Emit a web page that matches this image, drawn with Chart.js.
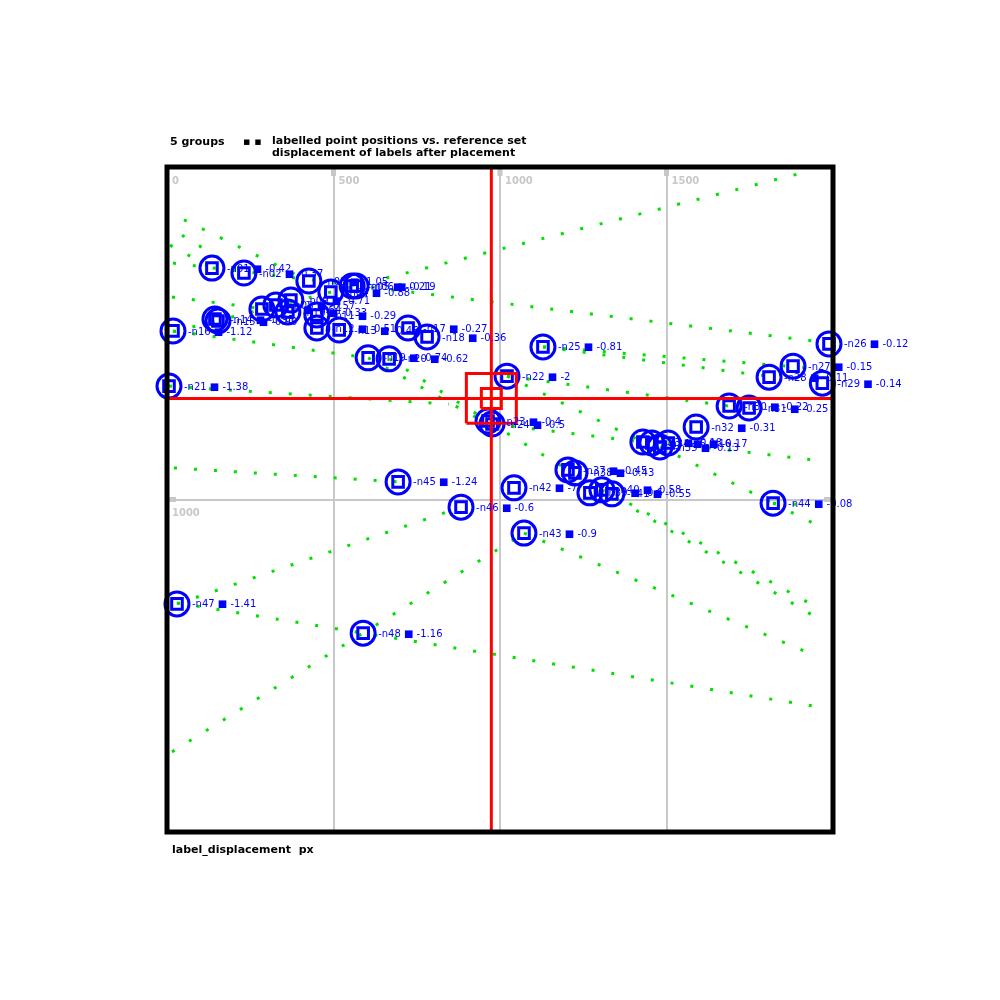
<!DOCTYPE html>
<html><head><meta charset="utf-8">
<script src="https://cdn.jsdelivr.net/npm/chart.js@4/dist/chart.umd.min.js"></script>
<style>html,body{margin:0;padding:0;background:#fff;}canvas{display:block;}</style>
</head><body>
<canvas id="c" width="1000" height="1000"></canvas>
<script>
// ---- text ----
const titleMain = "5 groups";
const titleSep = "▪ ▪";
const subtitleLines = ["labelled point positions vs. reference set", "displacement of labels after placement"];
const xAxisTitle = "label_displacement  px";

// ---- axes ----
const xMin = 0, xMax = 2000, yMin = 0, yMax = 2000;
const xTickValues = [0, 500, 1000, 1500];
const xTickLabels = ["0", "500", "1000", "1500"];
const yTickValues = [1000];
const yTickLabels = ["1000"];

// ---- nodes ----
const nodeX = [135,231,426,492,556,568,285,327,372,363,450,450,517,144,153,18,724,781,604,667,6,1021,964,976,1129,1988,1880,1808,1968,1688,1748,1589,1429,1456,1480,1505,1204,1225,1270,1306,1336,1042,1072,1820,694,883,30,589];
const nodeY = [1696,1681,1657,1624,1642,1642,1573,1585,1600,1564,1555,1516,1510,1543,1537,1507,1516,1489,1426,1423,1341,1371,1236,1227,1459,1468,1401,1368,1350,1281,1275,1218,1173,1170,1158,1170,1089,1080,1020,1029,1017,1035,899,989,1053,977,686,598];
const nodeLabels = [
 "-n01 ■ -0.42","-n02 ■ -0.37","-n03 ■ -1.05","-n04 ■ -0.88","-n05 ■ -0.21","-n06 ■ -0.19",
 "-n07 ■ -0.64","-n08 ■ -0.57","-n09 ■ -0.71","-n10 ■ -0.33","-n11 ■ -0.29","-n12 ■ -0.51",
 "-n13 ■ -0.46","-n14 ■ -0.93","-n15 ■ -0.90","-n16 ■ -1.12","-n17 ■ -0.27","-n18 ■ -0.36",
 "-n19 ■ -0.74","-n20 ■ -0.62","-n21 ■ -1.38","-n22 ■ -2","-n23 ■ -0.4","-n24 ■ -0.5",
 "-n25 ■ -0.81","-n26 ■ -0.12","-n27 ■ -0.15","-n28 ■ -0.11","-n29 ■ -0.14","-n30 ■ -0.22",
 "-n31 ■ -0.25","-n32 ■ -0.31","-n33 ■ -0.18","-n34 ■ -0.16","-n35 ■ -0.13","-n36 ■ -0.17",
 "-n37 ■ -0.45","-n38 ■ -0.43","-n39 ■ -0.6","-n40 ■ -0.58","-n41 ■ -0.55","-n42 ■ -7",
 "-n43 ■ -0.9","-n44 ■ -0.08","-n45 ■ -1.24","-n46 ■ -0.6","-n47 ■ -1.41","-n48 ■ -1.16"
];

// ---- green dotted links ----
const linkX1 = [18,51,18,21,30,15,30,1072,1336,1306,1480,1505,1129,1129,1021,970,976,1021,18,15,6,667,604,9,45,1820,1820];
const linkY1 = [1504,1841,1711,1095,689,241,686,899,1017,1029,1158,1170,1459,1459,1371,1230,1227,1371,1507,1609,1341,1423,1426,1765,1795,989,989];
const linkX2 = [1931,426,1940,694,1940,1072,883,1943,1949,1952,1820,1940,1940,1826,1688,1204,1429,1429,604,363,847,964,970,135,231,1946,1940];
const linkY2 = [1988,1657,1477,1053,379,899,977,532,677,644,989,1119,1395,1368,1281,1089,1173,1173,1426,1564,1287,1236,1224,1696,1681,926,983];

// ---- red marker ----
const centerX = 974, centerY = 1304;
const boxOuterHalf = 75, boxInnerHalf = 30;

const datasets = [];
for (let i = 0; i < linkX1.length; i++) {
  datasets.push({type:'line', data:[{x:linkX1[i],y:linkY1[i]},{x:linkX2[i],y:linkY2[i]}],
    borderColor:'#00e000', borderWidth:3, borderDash:[3,17], borderCapStyle:'butt',
    pointRadius:0, fill:false, tension:0, order:10});
}
datasets.push({type:'scatter', data:nodeX.map((x,i)=>({x, y:nodeY[i]})),
  pointStyle:'circle', pointRadius:12, pointBorderWidth:3, borderColor:'#0000ff',
  backgroundColor:'rgba(0,0,0,0)', pointBackgroundColor:'rgba(0,0,0,0)', order:6, clip:false});
datasets.push({type:'scatter', data:nodeX.map((x,i)=>({x, y:nodeY[i]})),
  pointStyle:'rect', pointRadius:7.5, pointBorderWidth:3, borderColor:'#0000ff',
  backgroundColor:'rgba(0,0,0,0)', pointBackgroundColor:'rgba(0,0,0,0)', order:5, clip:false});
function redLine(pts){
  return {type:'line', data:pts, borderColor:'#ff0000', borderWidth:3, pointRadius:0, fill:false, tension:0, order:1};
}
datasets.push(redLine([{x:centerX,y:yMin},{x:centerX,y:yMax}]));
datasets.push(redLine([{x:xMin,y:centerY},{x:xMax,y:centerY}]));
function box(h){
  return [{x:centerX-h,y:centerY-h},{x:centerX+h,y:centerY-h},{x:centerX+h,y:centerY+h},{x:centerX-h,y:centerY+h},{x:centerX-h,y:centerY-h}];
}
datasets.push(redLine(box(boxOuterHalf)));
datasets.push(redLine(box(boxInnerHalf)));

const decor = {
  id:'decor',
  beforeDatasetsDraw(chart){
    const {ctx, chartArea:a, scales:{x,y}} = chart;
    ctx.save();
    ctx.fillStyle = '#c8c8c8';
    xTickValues.forEach(v=>{ const px = x.getPixelForValue(v); if (v > xMin) ctx.fillRect(px-2.5, a.top, 5, 9); });
    yTickValues.forEach(v=>{ const py = y.getPixelForValue(v); ctx.fillRect(a.left, py-2.5, 9, 5); ctx.fillRect(a.right-9, py-2.5, 9, 5); });
    ctx.font = 'bold 10px "DejaVu Sans"';
    ctx.textAlign = 'left'; ctx.textBaseline = 'alphabetic';
    xTickValues.forEach((v,i)=>{ ctx.fillText(xTickLabels[i], x.getPixelForValue(v)+5, a.top+17); });
    yTickValues.forEach((v,i)=>{ ctx.fillText(yTickLabels[i], a.left+5, y.getPixelForValue(v)+16); });
    ctx.restore();
  },
  afterDatasetsDraw(chart){
    const {ctx} = chart;
    const metaIdx = linkX1.length; // circle dataset
    const meta = chart.getDatasetMeta(metaIdx);
    ctx.save();
    ctx.fillStyle = '#0000ff';
    ctx.font = '10px "DejaVu Sans"';
    ctx.textAlign = 'left'; ctx.textBaseline = 'middle';
    meta.data.forEach((pt,i)=>{ ctx.fillText(nodeLabels[i], pt.x+15, pt.y+1); });
    ctx.restore();
  },
  afterDraw(chart){
    const {ctx, chartArea:a} = chart;
    ctx.save();
    ctx.strokeStyle = '#000'; ctx.lineWidth = 5;
    ctx.strokeRect(a.left, a.top, a.right-a.left, a.bottom-a.top);
    ctx.fillStyle = '#000';
    ctx.font = 'bold 11px "DejaVu Sans"';
    ctx.textAlign = 'left'; ctx.textBaseline = 'alphabetic';
    ctx.fillText(titleMain, 170, 145);
    ctx.fillText(titleSep, 243, 145);
    subtitleLines.forEach((s,i)=>ctx.fillText(s, 272, 144 + i*12));
    ctx.fillText(xAxisTitle, 172, 853);
    ctx.restore();
  }
};

new Chart(document.getElementById('c'), {
  type:'scatter',
  data:{datasets},
  options:{
    responsive:false, devicePixelRatio:1, animation:false,
    layout:{padding:{left:167, right:167, top:167, bottom:168}},
    plugins:{legend:{display:false}, tooltip:{enabled:false}, title:{display:false}},
    scales:{
      x:{type:'linear', min:xMin, max:xMax, ticks:{display:false, stepSize:500},
         grid:{color:'#c8c8c8', lineWidth:2, drawTicks:false}, border:{display:false}},
      y:{type:'linear', min:yMin, max:yMax, ticks:{display:false, stepSize:1000},
         grid:{color:'#c8c8c8', lineWidth:2, drawTicks:false}, border:{display:false}}
    }
  },
  plugins:[decor]
});
</script>
</body></html>
